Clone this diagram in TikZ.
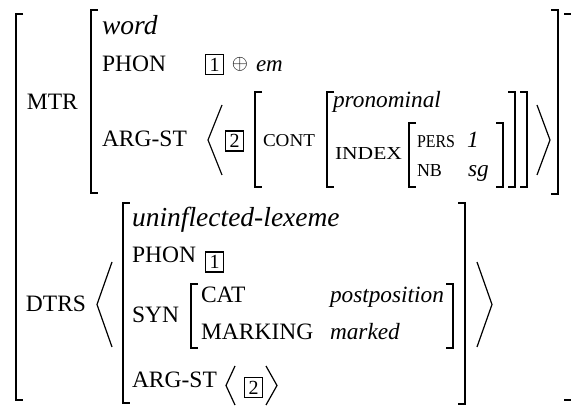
\documentclass[tikz,border=0pt]{standalone}
\usepackage{fontspec}
\setmainfont{Liberation Serif}
\usepackage{graphicx}
\tikzset{
  txt/.style={anchor=base west, inner sep=0pt, outer sep=0pt, font=\fontsize{23.5}{24}\selectfont},
  typ/.style={anchor=base west, inner sep=0pt, outer sep=0pt, font=\fontsize{27.5}{28}\selectfont\itshape},
  val/.style={anchor=base west, inner sep=0pt, outer sep=0pt, font=\fontsize{23.3}{24}\selectfont\itshape},
  tag/.style={draw, line width=1.7pt, inner sep=0pt, minimum width=18pt, minimum height=20pt, font=\fontsize{20}{20}\selectfont},
  brk/.style={line width=1.6pt, line cap=butt, line join=miter},
  ang/.style={line width=1.2pt, line join=miter},
}
\newcommand\smc[2]{\resizebox{#1pt}{12pt}{\fontsize{16}{16}\selectfont #2}}
\newcommand\avmLB[3]{\draw[brk] ({#1+7},#2) -- (#1,#2) -- (#1,#3) -- ({#1+7},#3);}
\newcommand\avmRB[3]{\draw[brk] ({#1-7},#2) -- (#1,#2) -- (#1,#3) -- ({#1-7},#3);}
\newcommand\avmLA[4]{\draw[ang] (#2,#3) -- (#1,{(#3+#4)/2}) -- (#2,#4);}
\newcommand\avmRA[4]{\draw[ang] (#1,#3) -- (#2,{(#3+#4)/2}) -- (#1,#4);}
\begin{document}
\begin{tikzpicture}[x=1pt,y=-1pt]
\useasboundingbox (0,0) rectangle (571,406);
% outer matrix
\avmLB{16}{14}{400}
\coordinate (otr1) at (564,14); \coordinate (otr2) at (571,14);
\coordinate (obr1) at (564,400); \coordinate (obr2) at (571,400);
\draw[brk] (otr1) -- (otr2);
\draw[brk] (obr1) -- (obr2);
% MTR
\node[txt] (mtr) at (27,110) {MTR};
\avmLB{91}{10}{193}
\node[typ] (word) at (102,35) {word};
\node[txt] (phon1) at (102,72) {PHON};
\node[tag] (t1a) at (214.5,64.5) {1};
\node[inner sep=0pt, font=\fontsize{20.74}{21}\selectfont] (oplus) at (240,64.5) {$\oplus$};
\node[val, font=\fontsize{23}{24}\selectfont\itshape] (em) at (256,72) {em};
\node[txt] (argst1) at (102,147) {ARG-ST};
\avmLA{208}{222}{105}{175}
\node[tag] (t2a) at (234.5,141) {2};
\avmLB{255}{92}{187}
\node[txt] (cont) at (263,147) {\smc{52}{CONT}};
\avmLB{327}{92}{187}
\node[val] (pron) at (333,108) {pronominal};
\node[txt] (index) at (335,160) {\smc{67}{INDEX}};
\avmLB{409}{123}{187}
\node[txt] (pers) at (417,148) {\smc{38}{PERS}};
\node[val] (one) at (467,148) {1};
\node[txt] (nb) at (417,177) {\smc{25}{NB}};
\node[val] (sg) at (468,177) {sg};
\avmRB{503}{123}{187}
\avmRB{515}{92}{187}
\avmRB{527}{92}{187}
\avmRA{537}{550}{105}{175}
\avmRB{558}{10}{194}
% DTRS
\node[txt] (dtrs) at (26,312) {DTRS};
\avmLA{97}{112}{262}{347}
\avmLB{122.7}{203}{403}
\node[typ] (unlex) at (132,227) {uninflected-lexeme};
\node[txt] (phon2) at (132,263) {PHON};
\node[tag] (t1b) at (214.5,262) {1};
\node[txt] (syn) at (132,323) {SYN};
\avmLB{191}{284}{348}
\node[txt] (cat) at (201,303) {CAT};
\node[val] (postp) at (330,303) {postposition};
\node[txt] (marking) at (201,340) {MARKING};
\node[val] (marked) at (330,340) {marked};
\avmRB{453}{284}{348}
\node[txt] (argst2) at (132,388) {ARG-ST};
\avmLA{226}{235}{366}{405}
\node[tag] (t2b) at (253.5,387.5) {2};
\avmRA{266}{277}{366}{405}
\avmRB{465}{203}{404}
\avmRA{477}{492}{262}{347}
\end{tikzpicture}
\end{document}
